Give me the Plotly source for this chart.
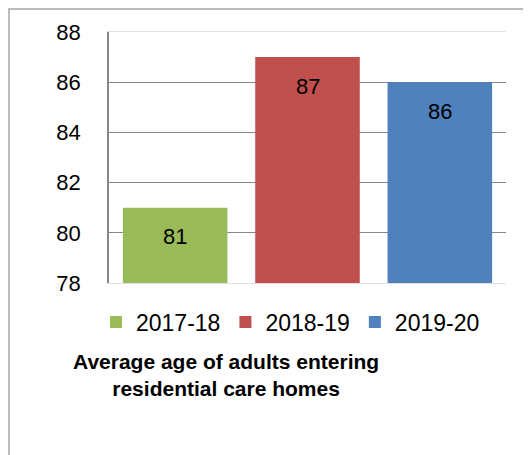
import plotly.graph_objects as go

categories = ["2017-18", "2018-19", "2019-20"]
values = [81, 87, 86]
colors = ["#9BBB59", "#C0504D", "#4F81BD"]
y_ticks = [78, 80, 82, 84, 86, 88]
grid_ticks = [80, 82, 84, 86]
title_lines = ["Average age of adults entering", "residential care homes"]

FONT = "Liberation Sans, Arial, sans-serif"

fig = go.Figure()
for c, v, col in zip(categories, values, colors):
    fig.add_trace(go.Bar(x=[c], y=[v], name=c, marker_color=col, width=0.79,
                         marker_line_width=0, showlegend=True))
    fig.add_annotation(x=c, y=v, xref="x", yref="y", text=str(v), showarrow=False,
                       yanchor="middle", yshift=-29, font=dict(size=22, color="black", family=FONT))

# secondary axis to carry the darker gridlines
fig.add_trace(go.Scatter(x=[categories[0]], y=[80], yaxis="y2", mode="markers",
                         marker=dict(opacity=0), showlegend=False, hoverinfo="skip"))

W, H = 531, 455
OFF = 8  # page body margin
l, t = 109 - OFF, 32 - OFF
pw, ph = 397, 251
r, b = W - l - pw, H - t - ph

def px_x(x):
    return (x - 109) / pw

def px_y(y):
    return (283 - y) / ph

fig.update_layout(
    width=W, height=H,
    margin=dict(l=l, r=r, t=t, b=b),
    paper_bgcolor="white", plot_bgcolor="white",
    barmode="overlay",
    font=dict(family=FONT, size=22, color="black"),
    xaxis=dict(showticklabels=False, showgrid=False, showline=True, mirror=True,
               linecolor="#e0e0e0", linewidth=1, zeroline=False, ticks=""),
    yaxis=dict(range=[78, 88], tickvals=y_ticks, showgrid=False, showline=True,
               linecolor="#868686", linewidth=1.5, zeroline=False, ticks="",
               ticklabelstandoff=22, tickfont=dict(size=22, color="black")),
    yaxis2=dict(range=[78, 88], overlaying="y", tickvals=grid_ticks, showgrid=True,
                gridcolor="#868686", gridwidth=1.2, showticklabels=False, zeroline=False,
                layer="below traces"),
    legend=dict(orientation="h", x=px_x(96), y=px_y(322), xanchor="left", yanchor="middle",
                font=dict(size=23, color="black"), itemwidth=30, traceorder="normal"),
    showlegend=True,
)

fig.add_annotation(xref="paper", yref="paper", x=px_x(226), y=px_y(375),
                   text="<br>".join(title_lines), showarrow=False, align="center",
                   xanchor="center", yanchor="middle",
                   font=dict(size=21, color="black", family=FONT, weight="bold"))

fig.add_shape(type="rect", xref="paper", yref="paper",
              x0=px_x(9), x1=px_x(545), y0=px_y(475), y1=px_y(9),
              line=dict(color="#a6a6a6", width=1.5), fillcolor="rgba(0,0,0,0)", layer="below")

fig.write_html("out.html")
